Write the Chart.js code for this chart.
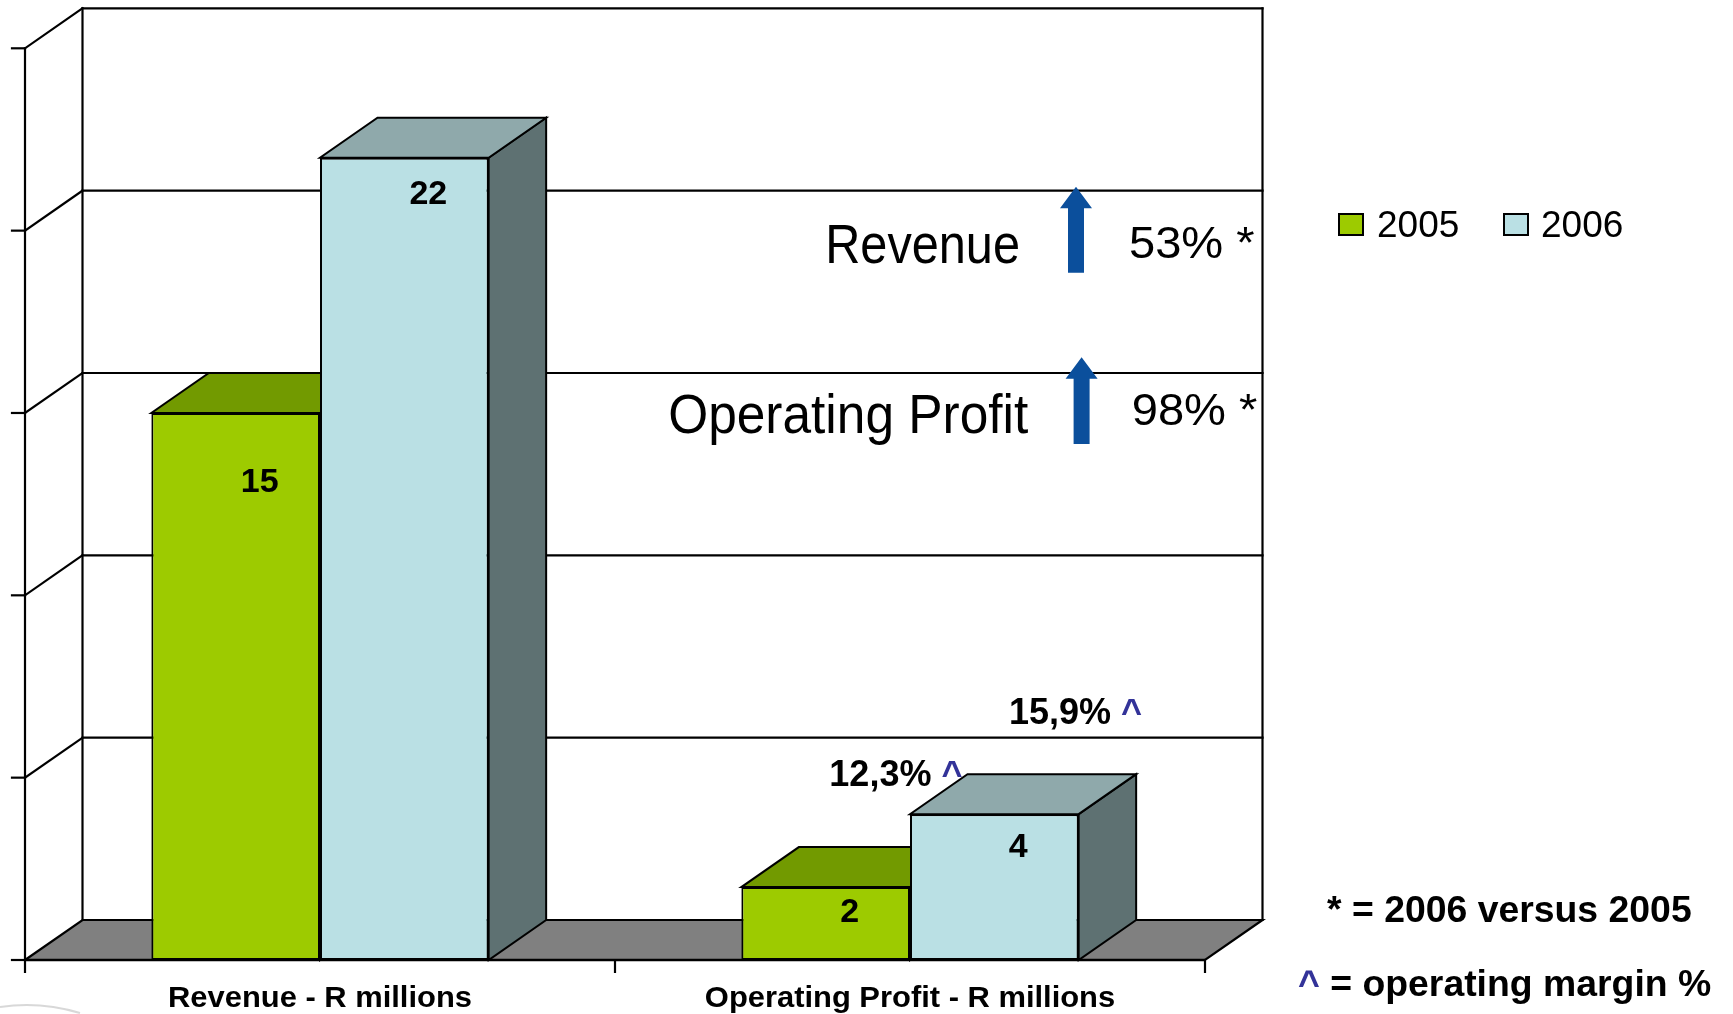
<!DOCTYPE html>
<html>
<head>
<meta charset="utf-8">
<script src="https://cdn.jsdelivr.net/npm/chart.js@4/dist/chart.umd.min.js"></script>
<style>
  html, body { margin: 0; padding: 0; background: #ffffff; }
  #wrap { width: 1733px; height: 1014px; position: relative; }
  canvas { display: block; }
</style>
</head>
<body>
<div id="wrap"><canvas id="c" width="1733" height="1014"></canvas></div>
<script>
// ---- data ----
const categories = ['Revenue - R millions', 'Operating Profit - R millions'];
const seriesLabels = ['2005', '2006'];
const values2005 = [15, 2];
const values2006 = [22, 4];
const yTicks = [0, 5, 10, 15, 20, 25];
const growthNames = ['Revenue', 'Operating Profit'];
const growthValues = ['53% *', '98% *'];
const marginLabels = ['12,3%', '15,9%'];
const footnotes = ['* = 2006 versus 2005', '^ = operating margin %'];

// ---- styles ----
const FRONT = ['#9DCB00', '#BAE0E4'];
const TOP = ['#729A00', '#8FA9AB'];
const SIDE = ['#5B7A00', '#5E7172'];
const FLOOR = '#808080';
const ARROW = '#0B4F9C';
const CARET = '#333399';
const DX = 57.5, DY = 40;
const SANS = '"Liberation Sans", Arial, sans-serif';

function txt(ctx, s, x, y, font, color, align, sx) {
  ctx.save();
  ctx.font = font;
  ctx.fillStyle = color;
  ctx.textBaseline = 'alphabetic';
  const w = ctx.measureText(s).width * sx;
  let x0 = x;
  if (align === 'center') x0 = x - w / 2;
  else if (align === 'right') x0 = x - w;
  ctx.translate(x0, y);
  ctx.scale(sx, 1);
  ctx.fillText(s, 0, 0);
  ctx.restore();
  return w;
}
function segs(ctx, parts, x, y, sx) {
  let cx = x;
  for (const p of parts) cx += txt(ctx, p[0], cx, y, p[2], p[1], 'left', sx);
}
function poly(ctx, pts, fill, stroke, lw) {
  ctx.beginPath();
  ctx.moveTo(pts[0][0], pts[0][1]);
  for (let i = 1; i < pts.length; i++) ctx.lineTo(pts[i][0], pts[i][1]);
  ctx.closePath();
  if (fill) { ctx.fillStyle = fill; ctx.fill(); }
  if (stroke) { ctx.strokeStyle = stroke; ctx.lineWidth = lw; ctx.stroke(); }
}
function line(ctx, x1, y1, x2, y2, lw) {
  ctx.beginPath(); ctx.moveTo(x1, y1); ctx.lineTo(x2, y2);
  ctx.strokeStyle = '#000'; ctx.lineWidth = lw; ctx.stroke();
}

const threeD = {
  id: 'threeD',
  beforeDraw(chart) {
    const ctx = chart.ctx;
    ctx.save(); ctx.fillStyle = '#fff'; ctx.fillRect(0, 0, chart.width, chart.height); ctx.restore();
  },
  beforeDatasetsDraw(chart) {
    const { ctx, chartArea: ca, scales: { y } } = chart;
    const L = ca.left, R = ca.right;
    const y0 = y.getPixelForValue(yTicks[0]);
    const yMax = y.getPixelForValue(yTicks[yTicks.length - 1]);
    ctx.save();
    ctx.lineCap = 'square';
    // back wall grid + left wall diagonals
    for (const v of yTicks) {
      const yf = y.getPixelForValue(v);
      if (v !== 0) {
        line(ctx, L + DX, yf - DY, R + DX, yf - DY, 2.2);
        line(ctx, L, yf, L + DX, yf - DY, 2.2);
      }
      line(ctx, L - 13, yf, L, yf, 2.2);
    }
    line(ctx, L + DX, yMax - DY, L + DX, y0 - DY, 2.2);
    line(ctx, R + DX, yMax - DY, R + DX, y0 - DY, 2.2);
    line(ctx, L, yMax, L, y0, 2.2);
    // floor
    poly(ctx, [[L, y0], [R, y0], [R + DX, y0 - DY], [L + DX, y0 - DY]], FLOOR, '#000', 2.2);
    // tops and sides of bars
    const n = chart.data.labels.length;
    for (let j = 0; j < n; j++) {
      chart.data.datasets.forEach((ds, i) => {
        const b = chart.getDatasetMeta(i).data[j];
        const xl = b.x - b.width / 2, xr = b.x + b.width / 2;
        poly(ctx, [[xr, b.y], [xr + DX, b.y - DY], [xr + DX, b.base - DY], [xr, b.base]], SIDE[i], '#000', 2);
        poly(ctx, [[xl, b.y], [xr, b.y], [xr + DX, b.y - DY], [xl + DX, b.y - DY]], TOP[i], '#000', 2);
      });
    }
    ctx.restore();
  },
  afterDatasetsDraw(chart) {
    const { ctx, chartArea: ca, scales: { x, y } } = chart;
    const L = ca.left, R = ca.right;
    const y0 = y.getPixelForValue(0);
    ctx.save();
    // front floor edge and category ticks
    line(ctx, L, y0, R, y0, 2.6);
    [L, (L + R) / 2, R].forEach(px => line(ctx, px, y0, px, y0 + 13, 2.2));
    // category labels
    categories.forEach((c, i) => txt(ctx, c, x.getPixelForValue(i), 1007, 'bold 30px ' + SANS, '#000', 'center', 1.03));
    // value labels
    const labelDy = [[68, 23], [35, 31]];
    chart.data.datasets.forEach((ds, i) => {
      chart.getDatasetMeta(i).data.forEach((b, j) => {
        txt(ctx, String(ds.data[j]), b.x + 24, b.y + labelDy[i][j] + 11.5, 'bold 33px ' + SANS, '#000', 'center', 1.03);
      });
    });
    // operating margin labels above operating-profit bars
    const mOff = [[88, -101], [99, -90]];
    const mFont = 'bold 36px ' + SANS;
    marginLabels.forEach((m, i) => {
      const b = chart.getDatasetMeta(i).data[1];
      segs(ctx, [[m + ' ', '#000', mFont], ['^', CARET, mFont]], b.x - b.width / 2 + mOff[i][0], b.y + mOff[i][1], 1.0);
    });
    // growth annotations
    const gPos = [
      { nameR: 1020, base: 262.7, sx: 0.885, ax: 1076, tip: 186.7, head: 208.3, bot: 272.7, valL: 1129, vBase: 258.3 },
      { nameR: 1028.3, base: 433.3, sx: 0.935, ax: 1081.6, tip: 357.3, head: 378.7, bot: 444, valL: 1131.7, vBase: 425 }
    ];
    growthNames.forEach((g, i) => {
      const p = gPos[i];
      txt(ctx, g, p.nameR, p.base, '56px ' + SANS, '#000', 'right', p.sx * 55 / 56);
      poly(ctx, [[p.ax, p.tip], [p.ax + 16, p.head], [p.ax + 8, p.head], [p.ax + 8, p.bot], [p.ax - 8, p.bot], [p.ax - 8, p.head], [p.ax - 16, p.head]], ARROW, null, 0);
      txt(ctx, growthValues[i], p.valL, p.vBase, '44px ' + SANS, '#000', 'left', 1.07);
    });
    // legend
    const lg = [{ bx: 1339, tx: 1377 }, { bx: 1504, tx: 1541 }];
    seriesLabels.forEach((s, i) => {
      ctx.fillStyle = FRONT[i];
      ctx.fillRect(lg[i].bx, 214, 24, 21);
      ctx.strokeStyle = '#000'; ctx.lineWidth = 2;
      ctx.strokeRect(lg[i].bx, 214, 24, 21);
      txt(ctx, s, lg[i].tx, 237.3, '37px ' + SANS, '#000', 'left', 1.0);
    });
    // footnotes
    const fFont = 'bold 37px ' + SANS;
    segs(ctx, [[footnotes[0], '#000', fFont]], 1327, 921.7, 1.01);
    segs(ctx, [[footnotes[1].charAt(0), CARET, fFont], [footnotes[1].slice(1), '#000', fFont]], 1298, 996, 1.01);
    // faint logo fragment at bottom-left
    ctx.beginPath(); ctx.moveTo(0, 1007); ctx.quadraticCurveTo(40, 1001, 80, 1013);
    ctx.strokeStyle = 'rgba(190,190,190,0.6)'; ctx.lineWidth = 2; ctx.stroke();
    ctx.restore();
  }
};

new Chart(document.getElementById('c'), {
  type: 'bar',
  data: {
    labels: categories,
    datasets: [
      { label: seriesLabels[0], data: values2005, backgroundColor: FRONT[0] },
      { label: seriesLabels[1], data: values2006, backgroundColor: FRONT[1] }
    ]
  },
  options: {
    responsive: false,
    devicePixelRatio: 1,
    animation: false,
    layout: { padding: { left: 25, right: 528, top: 48.3, bottom: 54 } },
    datasets: {
      bar: { categoryPercentage: 0.5717, barPercentage: 1.0, borderColor: '#000', borderWidth: 2, borderSkipped: false }
    },
    plugins: { legend: { display: false }, tooltip: { enabled: false }, title: { display: false } },
    scales: {
      x: { display: false, offset: true },
      y: { display: false, min: 0, max: 25 }
    }
  },
  plugins: [threeD]
});
</script>
</body>
</html>
